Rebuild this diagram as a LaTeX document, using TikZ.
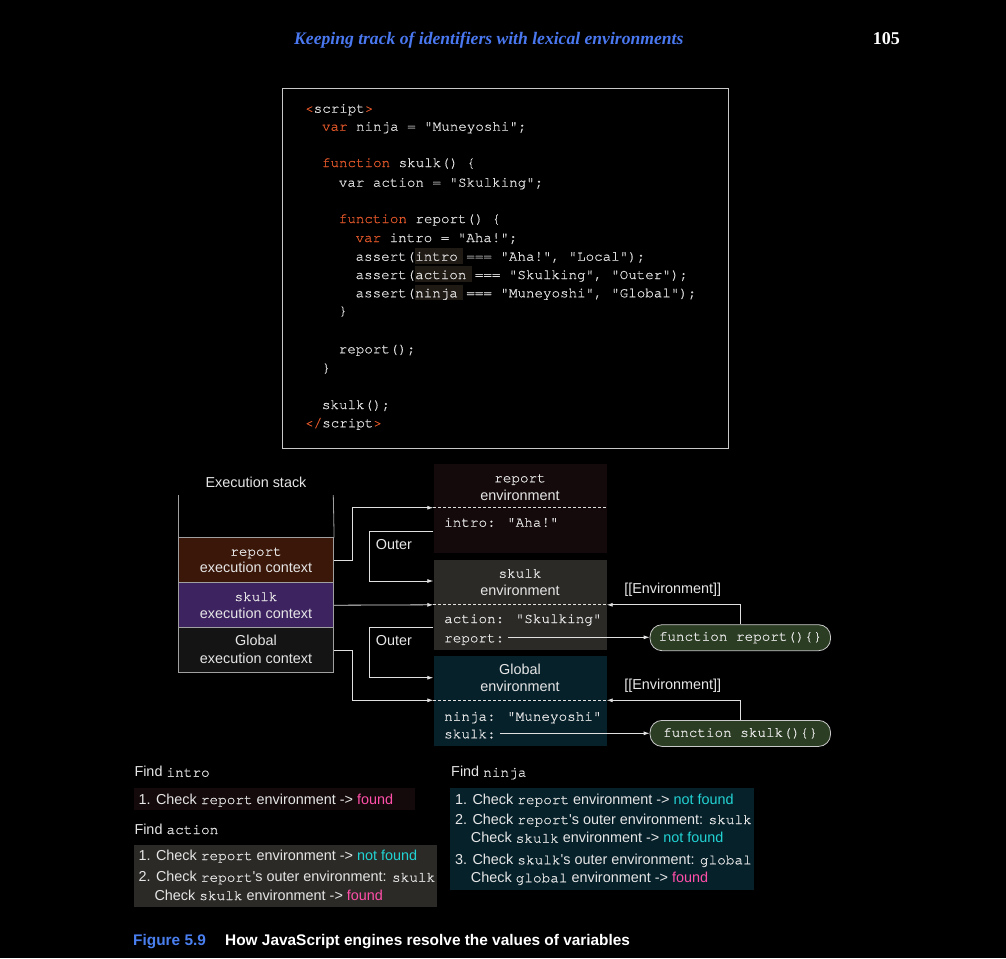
\documentclass[tikz,border=0pt]{standalone}
\usepackage{fontspec}
\setmainfont{Liberation Sans}[Ligatures=TeXOff]
\newfontfamily\cmono{texgyrecursor-regular.otf}[Ligatures=TeXOff, FakeBold=0.6]
\newfontfamily\hdrfont{Liberation Serif}
\usetikzlibrary{arrows.meta}

\definecolor{fg}{HTML}{E6E6E6}
\definecolor{codefg}{HTML}{E0E0E0}
\definecolor{codeorange}{HTML}{E2572A}
\definecolor{hl}{HTML}{201A15}
\definecolor{hdrblue}{HTML}{4A78F0}
\definecolor{figblue}{HTML}{4A7FF0}
\definecolor{boxline}{HTML}{C8C8C8}
\definecolor{stackline}{HTML}{A0A0A0}
\definecolor{lineclr}{HTML}{E0E0E0}
\definecolor{rctxfill}{HTML}{3B1709}
\definecolor{sctxfill}{HTML}{3E2361}
\definecolor{gctxfill}{HTML}{141414}
\definecolor{renvfill}{HTML}{140A0C}
\definecolor{senvfill}{HTML}{2B2A27}
\definecolor{genvfill}{HTML}{07212B}
\definecolor{pillfill}{HTML}{2B3D22}
\definecolor{pillline}{HTML}{C8C8C8}
\definecolor{foundclr}{HTML}{FF4FA8}
\definecolor{notfoundclr}{HTML}{22D3D3}

\newcommand\kw[1]{\textcolor{codeorange}{#1}}
\newcommand\found{\textcolor{foundclr}{found}}
\newcommand\notfound{\textcolor{notfoundclr}{not found}}

\begin{document}
\begin{tikzpicture}[x=1pt,y=-1pt,
  every node/.style={font=\fontsize{14.4}{17}\selectfont},
  txt/.style={inner sep=0pt, text height=10pt, text depth=0pt, text=fg},
  codeln/.style={txt, anchor=west, font=\cmono\fontsize{14.2}{17}\selectfont, text=codefg},
  mono/.style={txt, font=\cmono\fontsize{14.3}{17}\selectfont},
  ctxbox/.style={draw=stackline, line width=0.8pt, minimum width=155pt, minimum height=45pt, inner sep=0pt, anchor=north west},
  envbox/.style={minimum width=173.4pt, inner sep=0pt, anchor=north west},
  fnbox/.style={draw=pillline, line width=0.8pt, rounded corners=12pt, fill=pillfill, minimum width=180.5pt, minimum height=26pt, inner sep=0pt, font=\cmono\fontsize{14.3}{17}\selectfont, text=fg},
  arr/.style={draw=lineclr, line width=0.8pt, -{Latex[length=6pt,width=4pt]}},
  wall/.style={draw=stackline, line width=0.8pt},
  dashsep/.style={draw=lineclr, line width=0.8pt, dash pattern=on 3pt off 2pt},
  findbox/.style={inner sep=0pt, anchor=north west},
]
% page background
\fill[black] (0,0) rectangle (1006,958);
\useasboundingbox (0,0) rectangle (1006,958);

% running head
\node[txt, anchor=west, font=\hdrfont\itshape\bfseries\fontsize{17.6}{20}\selectfont, text=hdrblue] (hdr) at (294,39.5) {Keeping track of identifiers with lexical environments};
\node[txt, anchor=east, font=\hdrfont\bfseries\fontsize{18}{20}\selectfont, text=white] (pgno) at (900,39.5) {105};

% listing
\node[draw=boxline, line width=1.3pt, minimum width=445.5pt, minimum height=360pt, inner sep=0pt, anchor=north west] (codebox) at (282,88) {};
\fill[hl] (415,248) rectangle (463,263.5);
\fill[hl] (415,266.3) rectangle (472,281.8);
\fill[hl] (415,284.6) rectangle (463,300.1);
\node[codeln] (c1) at (305,107.7) {\kw{<}script\kw{>}};
\node[codeln] (c2) at (321.8,125.7) {\kw{var} ninja = "Muneyoshi";};
\node[codeln] (c3) at (321.8,162) {\kw{function} skulk() \{};
\node[codeln] (c4) at (338.6,181.7) {var action = "Skulking";};
\node[codeln] (c5) at (338.6,218) {\kw{function} report() \{};
\node[codeln] (c6) at (355.4,237) {\kw{var} intro = "Aha!";};
\node[codeln] (c7) at (355.4,255.7) {assert(intro === "Aha!", "Local");};
\node[codeln] (c8) at (355.4,274) {assert(action === "Skulking", "Outer");};
\node[codeln] (c9) at (355.4,292.3) {assert(ninja === "Muneyoshi", "Global");};
\node[codeln] (c10) at (338.6,310) {\}};
\node[codeln] (c11) at (338.6,348.3) {report();};
\node[codeln] (c12) at (321.8,367) {\}};
\node[codeln] (c13) at (321.8,404) {skulk();};
\node[codeln] (c14) at (305,422.3) {\kw{</}script\kw{>}};

% execution stack
\node[txt] (stacklbl) at (256,482.7) {Execution stack};
\node[ctxbox, fill=rctxfill] (rctx) at (178.3,537.3) {};
\node[ctxbox, fill=sctxfill] (sctx) at (178.3,582.3) {};
\node[ctxbox, fill=gctxfill] (gctx) at (178.3,627.3) {};
\coordinate (wallL) at (178.3,495);
\coordinate (wallR) at (333.3,495);
\draw[wall] (wallL) -- (rctx.north west);
\draw[wall] (wallR) -- (rctx.north east);
\node[mono] (rctxa) at (256,550.7) {report};
\node[txt] (rctxb) at (256,567.7) {execution context};
\node[mono] (sctxa) at (256,596) {skulk};
\node[txt] (sctxb) at (256,613.3) {execution context};
\node[txt] (gctxa) at (256,640) {Global};
\node[txt] (gctxb) at (256,658.3) {execution context};

% environments
\node[envbox, minimum height=89.4pt, fill=renvfill] (renv) at (433.3,463.3) {};
\node[envbox, minimum height=90pt, fill=senvfill] (senv) at (433.3,559.5) {};
\node[envbox, minimum height=90pt, fill=genvfill] (genv) at (433.3,656) {};
\coordinate (rdashL) at (433.3,507.7);
\coordinate (rdashR) at (606.7,507.7);
\coordinate (sdashL) at (433.3,604.8);
\coordinate (sdashR) at (606.7,604.8);
\coordinate (gdashL) at (433.3,700.3);
\coordinate (gdashR) at (606.7,700.3);
\draw[dashsep] (rdashL) -- (rdashR);
\draw[dashsep] (sdashL) -- (sdashR);
\draw[dashsep] (gdashL) -- (gdashR);
\node[mono] (renva) at (520,477.3) {report};
\node[txt] (renvb) at (520,495) {environment};
\node[mono] (senva) at (520,572.7) {skulk};
\node[txt] (senvb) at (520,590.7) {environment};
\node[txt] (genva) at (520,669) {Global};
\node[txt] (genvb) at (520,686.7) {environment};
\node[mono, anchor=west] (rintro) at (444,521.7) {intro: "Aha!"};
\node[mono, anchor=west] (saction) at (444,618) {action: "Skulking"};
\node[mono, anchor=west] (sreport) at (444,637.3) {report:};
\node[mono, anchor=west] (gninja) at (444,715.7) {ninja: "Muneyoshi"};
\node[mono, anchor=west] (gskulk) at (444,733.3) {skulk:};

% function objects
\node[fnbox] (frep) at (740.3,637.7) {function report()\{\}};
\node[fnbox] (fsk) at (740.3,733.4) {function skulk()\{\}};

% stack to environment links
\draw[arr] (rctx.east) -- ++(18.4,0) |- (rdashL);
\draw[arr] (sctx.east) -- (sdashL);
\draw[arr] (gctx.east) -- ++(18.4,0) |- (gdashL);

% outer links
\coordinate (rout) at (433.3,531);
\coordinate (sin) at (433.3,581);
\coordinate (sout) at (433.3,627.7);
\coordinate (gin) at (433.3,677.7);
\draw[arr] (rout) -- ++(-64.3,0) |- (sin);
\draw[arr] (sout) -- ++(-64.3,0) |- (gin);
\node[txt, anchor=west] (outer1) at (375.7,544) {Outer};
\node[txt, anchor=west] (outer2) at (375.7,640) {Outer};

% function references and [[Environment]]
\draw[arr] ([xshift=4pt]sreport.east) -- (sreport.east -| frep.west);
\draw[arr] ([xshift=4pt]gskulk.east) -- (gskulk.east -| fsk.west);
\draw[arr] (frep.north) |- (sdashR);
\draw[arr] (fsk.north) |- (gdashR);
\node[txt] (envl1) at (672.7,588.3) {[[Environment]]};
\node[txt] (envl2) at (672.7,684) {[[Environment]]};

% lookup of intro
\node[txt, anchor=west] (findintro) at (134.3,771.7) {Find {\cmono intro}};
\node[findbox, fill=renvfill, minimum width=281pt, minimum height=22.7pt] (fbox1) at (133.3,787.3) {};
\node[txt, anchor=west] (fi1) at (138.5,799) {1. Check {\cmono report} environment -> \found};

% lookup of action
\node[txt, anchor=west] (findaction) at (134.3,829) {Find {\cmono action}};
\node[findbox, fill=senvfill, minimum width=303.7pt, minimum height=62.4pt] (fbox2) at (133.3,844.3) {};
\node[txt, anchor=west] (fa1) at (138.5,855) {1. Check {\cmono report} environment -> \notfound};
\node[txt, anchor=west] (fa2) at (138.5,876.7) {2. Check {\cmono report}'s outer environment: {\cmono skulk}};
\node[txt, anchor=west] (fa3) at (154.3,895) {Check {\cmono skulk} environment -> \found};

% lookup of ninja
\node[txt, anchor=west] (findninja) at (451,771.7) {Find {\cmono ninja}};
\node[findbox, fill=genvfill, minimum width=304.7pt, minimum height=102pt] (fbox3) at (449.3,787.3) {};
\node[txt, anchor=west] (fn1) at (455,799) {1. Check {\cmono report} environment -> \notfound};
\node[txt, anchor=west] (fn2) at (455,819) {2. Check {\cmono report}'s outer environment: {\cmono skulk}};
\node[txt, anchor=west] (fn3) at (470.7,837.7) {Check {\cmono skulk} environment -> \notfound};
\node[txt, anchor=west] (fn4) at (455,859.3) {3. Check {\cmono skulk}'s outer environment: {\cmono global}};
\node[txt, anchor=west] (fn5) at (470.7,877.3) {Check {\cmono global} environment -> \found};

% caption
\node[txt, anchor=west, font=\bfseries\fontsize{15.4}{18}\selectfont, text=figblue] (figno) at (133,940.5) {Figure 5.9};
\node[txt, anchor=west, font=\bfseries\fontsize{15.4}{18}\selectfont, text=white] (figcap) at (225,940.5) {How JavaScript engines resolve the values of variables};
\end{tikzpicture}
\end{document}
